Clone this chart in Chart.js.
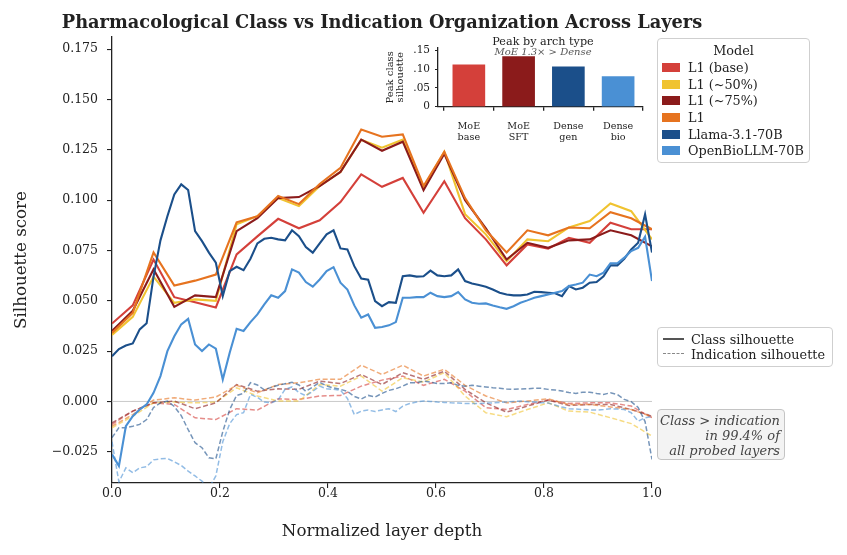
<!DOCTYPE html>
<html>
<head>
<meta charset="utf-8">
<script src="https://cdn.jsdelivr.net/npm/chart.js@4.4.1/dist/chart.umd.min.js"></script>
<style>
  html, body { margin: 0; padding: 0; background: #fff; }
  #wrap { position: relative; width: 847px; height: 555px; font-family: "DejaVu Serif", serif; color: #222; overflow: hidden; }
  #main { position: absolute; left: 0; top: 0; }
  #inset { position: absolute; left: 380px; top: 30px; }
  .abs { position: absolute; white-space: nowrap; }
  .title { left: 0; top: 12px; width: 764px; text-align: center; font-weight: bold; font-size: 17.8px; line-height: 20px; }
  .insetTitle { left: 443px; width: 200px; text-align: center; }
  .box { position: absolute; box-sizing: border-box; border: 1px solid #cfcfcf; border-radius: 4px; background: rgba(255,255,255,0.85); }
  .row { position: absolute; white-space: nowrap; font-size: 12.8px; line-height: 15px; }
  .patch { position: absolute; width: 18px; height: 9px; }
  .note { left: 657px; top: 409px; width: 128px; height: 51px; background: #f3f3f3; border-color: #c4c4c4; }
  .note div { position: absolute; right: 4px; font-style: italic; font-size: 13px; line-height: 15px; color: #444; white-space: nowrap; }
</style>
</head>
<body>
<div id="wrap">
  <canvas id="main" width="847" height="555"></canvas>
  <canvas id="inset" width="270" height="120"></canvas>
  <div class="abs title">Pharmacological Class vs Indication Organization Across Layers</div>
  <div class="abs insetTitle" style="top:36px;font-size:11.2px;line-height:12px;">Peak by arch type</div>
  <div class="abs insetTitle" style="top:46.5px;font-size:10px;line-height:10px;font-style:italic;color:#555;">MoE 1.3× &gt; Dense</div>
  <div class="box" id="modelLegend" style="left:657px;top:38px;width:153px;height:125px;"></div>
  <div class="box" id="styleLegend" style="left:657px;top:327px;width:176px;height:40px;"></div>
  <div class="box note" id="note"></div>
</div>
<script>
// Tick labels
var depthTicks = [0, 0.2, 0.4, 0.6, 0.8, 1.0];
var depthTickLabels = ['0.0', '0.2', '0.4', '0.6', '0.8', '1.0'];
var scoreTicks = [-0.025, 0, 0.025, 0.05, 0.075, 0.1, 0.125, 0.15, 0.175];
var scoreTickLabels = ['\u22120.025', '0.000', '0.025', '0.050', '0.075', '0.100', '0.125', '0.150', '0.175'];

// Models
var modelNames = ['L1 (base)', 'L1 (~50%)', 'L1 (~75%)', 'L1', 'Llama-3.1-70B', 'OpenBioLLM-70B'];
var modelColors = ['#d4403a', '#f0c330', '#8b1b1b', '#e6731f', '#1b4f8a', '#4a90d4'];

// Class silhouette per layer (L1 models: 27 probed layers)
var classL1Base = [0.0387, 0.0477, 0.0705, 0.0518, 0.0493, 0.0467, 0.073, 0.082, 0.0907, 0.086, 0.090, 0.099, 0.1128, 0.1066, 0.111, 0.0937, 0.1094, 0.091, 0.0805, 0.0676, 0.078, 0.0759, 0.0813, 0.0788, 0.0888, 0.0855, 0.0855];
var classL1Half = [0.033, 0.042, 0.062, 0.049, 0.0507, 0.050, 0.088, 0.092, 0.101, 0.097, 0.107, 0.114, 0.130, 0.126, 0.130, 0.106, 0.124, 0.093, 0.083, 0.0697, 0.0805, 0.0796, 0.0864, 0.0896, 0.0983, 0.0945, 0.0805];
var classL1ThreeQ = [0.035, 0.045, 0.0656, 0.047, 0.0527, 0.0518, 0.0846, 0.091, 0.101, 0.1015, 0.107, 0.114, 0.130, 0.1245, 0.129, 0.105, 0.123, 0.100, 0.086, 0.0705, 0.0788, 0.0763, 0.080, 0.0805, 0.085, 0.0825, 0.077];
var classL1 = [0.034, 0.044, 0.074, 0.0576, 0.060, 0.063, 0.089, 0.092, 0.102, 0.098, 0.108, 0.116, 0.135, 0.1315, 0.1326, 0.107, 0.124, 0.101, 0.085, 0.074, 0.085, 0.0825, 0.0864, 0.086, 0.094, 0.091, 0.0855];

// Dense models: 79 probed layers
var classLlama = [0.0225, 0.026, 0.0278, 0.0288, 0.0358, 0.0388, 0.062, 0.080, 0.092, 0.1028,
  0.1078, 0.105, 0.0846, 0.0796, 0.0739, 0.0689, 0.0523, 0.0647, 0.0669, 0.0652,
  0.0709, 0.0785, 0.0808, 0.0813, 0.0805, 0.080, 0.085, 0.0821, 0.0767, 0.0739,
  0.0785, 0.083, 0.085, 0.076, 0.0755, 0.0672, 0.061, 0.0605, 0.0498, 0.0473,
  0.0493, 0.049, 0.0622, 0.0626, 0.062, 0.0622, 0.065, 0.0626, 0.0622, 0.0626,
  0.0656, 0.0598, 0.0586, 0.0578, 0.057, 0.0556, 0.054, 0.0531, 0.0527, 0.0527,
  0.0531, 0.0545, 0.0543, 0.054, 0.0537, 0.0523, 0.0573, 0.0556, 0.0565, 0.059,
  0.0593, 0.0622, 0.0676, 0.0676, 0.0709, 0.0755, 0.0788, 0.0929, 0.074];
var classBio = [-0.0263, -0.0321, -0.0123, -0.0073, -0.004, -0.0015, 0.0043, 0.0126, 0.025, 0.0324,
  0.0383, 0.041, 0.0283, 0.025, 0.0283, 0.0262, 0.0109, 0.0242, 0.0361, 0.035,
  0.0394, 0.0432, 0.0482, 0.0527, 0.0515, 0.0548, 0.0656, 0.064, 0.0593, 0.057,
  0.0606, 0.0647, 0.0667, 0.059, 0.0556, 0.0477, 0.0416, 0.0432, 0.0366, 0.037,
  0.0378, 0.0394, 0.0515, 0.0515, 0.0518, 0.0518, 0.054, 0.0523, 0.0518, 0.0523,
  0.0543, 0.0507, 0.049, 0.0485, 0.0487, 0.0477, 0.0468, 0.046, 0.0473, 0.049,
  0.0502, 0.0515, 0.0523, 0.0531, 0.054, 0.0548, 0.0573, 0.0581, 0.059, 0.063,
  0.0622, 0.064, 0.0686, 0.0686, 0.0714, 0.0747, 0.0763, 0.0818, 0.0598];

// Indication silhouette per layer
var indL1Base = [-0.0114, -0.0048, -0.0007, -0.0015, -0.0081, -0.009, -0.0036, -0.0043, 0.0013, 0.001, 0.0027, 0.003, 0.0076, 0.0106, 0.0126, 0.008, 0.011, 0.0051, -0.0031, -0.004, -0.0015, 0.0007, -0.001, -0.0007, -0.0007, -0.0023, -0.0081];
var indL1Half = [-0.0131, -0.0073, -0.0007, -0.0003, -0.0007, -0.0003, 0.0068, 0.0027, 0.0002, 0.0002, 0.0084, 0.0076, 0.0126, 0.0051, 0.0118, 0.0096, 0.0143, 0.0027, -0.0056, -0.0076, -0.004, -0.0007, -0.0048, -0.0053, -0.0081, -0.011, -0.0172];
var indL1ThreeQ = [-0.0106, -0.0048, -0.0007, 0.0002, -0.0036, -0.0007, 0.0084, 0.0051, 0.0063, 0.006, 0.0101, 0.0089, 0.0134, 0.0084, 0.0143, 0.011, 0.015, 0.006, -0.0007, -0.0053, -0.0023, 0.0007, -0.002, -0.0015, -0.0015, -0.004, -0.0073];
var indL1 = [-0.0123, -0.0065, 0.0007, 0.0018, 0.0007, 0.0022, 0.008, 0.0043, 0.0084, 0.0093, 0.011, 0.011, 0.018, 0.0134, 0.018, 0.0126, 0.016, 0.008, 0.0027, -0.0007, 0.0002, 0.0013, -0.0015, -0.0015, -0.0027, -0.004, -0.0076];
var indLlama = [-0.018, -0.013, -0.013, -0.0123, -0.0114, -0.009, -0.003, -0.0007, 0.0002, -0.0025,
  -0.007, -0.014, -0.0205, -0.023, -0.028, -0.0285, -0.015, -0.004, 0.003, 0.004,
  0.0093, 0.0082, 0.0058, 0.007, 0.008, 0.0088, 0.0095, 0.0082, 0.005, 0.0072,
  0.0095, 0.0077, 0.0067, 0.006, 0.005, 0.0025, 0.0012, 0.003, 0.0022, 0.004,
  0.0055, 0.0063, 0.0076, 0.0093, 0.0093, 0.0101, 0.0096, 0.0089, 0.0089, 0.0093,
  0.008, 0.0076, 0.008, 0.0076, 0.0072, 0.0068, 0.0066, 0.0062, 0.006, 0.0062,
  0.0063, 0.0066, 0.0065, 0.006, 0.0057, 0.0052, 0.0044, 0.004, 0.0046, 0.0046,
  0.004, 0.0035, 0.0043, 0.0034, 0.001, -0.0001, -0.003, -0.010, -0.0288];
var indBio = [-0.020, -0.040, -0.033, -0.0354, -0.033, -0.0324, -0.029, -0.0285, -0.0283, -0.030,
  -0.0318, -0.0346, -0.037, -0.0396, -0.043, -0.037, -0.020, -0.011, -0.0065, -0.0056,
  0.0035, 0.002, -0.0003, -0.0007, 0.0008, 0.006, 0.0072, 0.0045, 0.0028, 0.005,
  0.0076, 0.0063, 0.006, 0.0056, 0.0015, -0.0065, -0.0048, -0.0043, -0.005, -0.0042,
  -0.0036, -0.005, -0.0023, -0.001, -0.0003, 0.0002, 0.0, -0.0003, -0.0005, -0.0007,
  -0.0008, -0.001, -0.001, -0.001, -0.0008, -0.0007, -0.0005, -0.0003, 0.0, 0.0002,
  -0.0002, -0.0003, -0.0006, -0.0008, -0.0018, -0.0028, -0.0036, -0.0038, -0.004, -0.0042,
  -0.0043, -0.004, -0.0036, -0.0038, -0.004, -0.0056, -0.0098, -0.0081, -0.0075];

// Inset: peak class silhouette by architecture
var archLabels = [['MoE', 'base'], ['MoE', 'SFT'], ['Dense', 'gen'], ['Dense', 'bio']];
var archPeaks = [0.111, 0.133, 0.106, 0.080];
var archColors = ['#d4403a', '#8b1b1b', '#1b4f8a', '#4a90d4'];
var insetTicks = [0, 0.05, 0.10, 0.15];
var insetTickLabels = ['0', '.05', '.10', '.15'];

var classSeries = [classL1Base, classL1Half, classL1ThreeQ, classL1, classLlama, classBio];
var indSeries = [indL1Base, indL1Half, indL1ThreeQ, indL1, indLlama, indBio];

var FONT = '"DejaVu Serif", serif';
var INK = '#222';

function toPoints(vals) {
  // x = normalized layer depth of each probed layer
  return vals.map(function (v, i) { return { x: i / (vals.length - 1), y: v }; });
}
function fade(hex, a) {
  var n = parseInt(hex.slice(1), 16);
  return 'rgba(' + (n >> 16) + ',' + ((n >> 8) & 255) + ',' + (n & 255) + ',' + a + ')';
}

var datasets = [];
modelNames.forEach(function (name, k) {
  datasets.push({
    label: name + ' class', data: toPoints(classSeries[k]),
    borderColor: modelColors[k], borderWidth: 2.1, pointRadius: 0, tension: 0, fill: false,
    order: -(2 * k + 10)
  });
  datasets.push({
    label: name + ' indication', data: toPoints(indSeries[k]),
    borderColor: fade(modelColors[k], 0.6), borderWidth: 1.5, borderDash: [5, 2.5],
    pointRadius: 0, tension: 0, fill: false, order: -(2 * k)
  });
});

// light grey reference line at zero
var zeroLine = {
  id: 'zeroLine',
  beforeDatasetsDraw: function (chart) {
    var a = chart.chartArea, y = chart.scales.y.getPixelForValue(0), ctx = chart.ctx;
    ctx.save();
    ctx.strokeStyle = '#c9c9c9';
    ctx.lineWidth = 1;
    ctx.beginPath();
    ctx.moveTo(a.left, y);
    ctx.lineTo(a.right, y);
    ctx.stroke();
    ctx.restore();
  }
};

var ctxMain = document.getElementById('main').getContext('2d');
var mainChart = new Chart(ctxMain, {
  type: 'line',
  data: { datasets: datasets },
  plugins: [zeroLine],
  options: {
    responsive: false,
    animation: false,
    layout: { padding: { left: 0, top: 37, right: 195, bottom: 0 } },
    plugins: { legend: { display: false }, tooltip: { enabled: false } },
    scales: {
      x: {
        type: 'linear', min: 0, max: 1,
        afterBuildTicks: function (s) { s.ticks = depthTicks.map(function (v) { return { value: v }; }); },
        afterFit: function (s) { s.height = 72; },
        ticks: {
          callback: function (v, i) { return depthTickLabels[i]; },
          font: { family: FONT, size: 12.5 }, color: INK, padding: -2, maxRotation: 0, autoSkip: false
        },
        grid: { display: true, drawOnChartArea: false, tickLength: 5, color: INK, lineWidth: 1.1 },
        border: { display: true, color: INK, width: 1.3 },
        title: { display: true, text: 'Normalized layer depth', font: { family: FONT, size: 16.7 }, color: INK, padding: { top: 0, bottom: 13 } }
      },
      y: {
        type: 'linear', min: -0.0405, max: 0.181,
        afterBuildTicks: function (s) { s.ticks = scoreTicks.map(function (v) { return { value: v }; }); },
        afterFit: function (s) { s.width = 112; },
        ticks: {
          callback: function (v, i) { return scoreTickLabels[i]; },
          font: { family: FONT, size: 12.5 }, color: INK, padding: 9, autoSkip: false
        },
        grid: { display: true, drawOnChartArea: false, tickLength: 5, color: INK, lineWidth: 1.1 },
        border: { display: true, color: INK, width: 1.3 },
        title: { display: true, text: 'Silhouette score', font: { family: FONT, size: 16.7 }, color: INK, padding: { top: 12, bottom: 0 } }
      }
    }
  }
});

// Inset bar chart
var ctxInset = document.getElementById('inset').getContext('2d');
var insetChart = new Chart(ctxInset, {
  type: 'bar',
  data: {
    datasets: [{
      data: archPeaks.map(function (v, i) { return { x: i, y: v }; }),
      backgroundColor: archColors, borderWidth: 0, barThickness: 32
    }]
  },
  options: {
    responsive: false,
    animation: false,
    layout: { padding: { left: 0, top: 18, right: 7, bottom: 0 } },
    plugins: { legend: { display: false }, tooltip: { enabled: false } },
    scales: {
      x: {
        type: 'linear', min: -0.62, max: 3.5, offset: false,
        afterBuildTicks: function (s) { s.ticks = archLabels.map(function (l, i) { return { value: i }; }); },
        afterFit: function (s) { s.height = 43.3; },
        ticks: {
          callback: function (v, i) { return archLabels[i]; },
          font: { family: FONT, size: 9.6, lineHeight: 1.2 }, color: INK, padding: 10, maxRotation: 0, autoSkip: false
        },
        grid: { display: true, drawOnChartArea: false, tickLength: 4, color: INK, lineWidth: 1.3 },
        border: { display: true, color: INK, width: 1.3 }
      },
      y: {
        type: 'linear', min: 0, max: 0.156,
        afterBuildTicks: function (s) { s.ticks = insetTicks.map(function (v) { return { value: v }; }); },
        afterFit: function (s) { s.width = 58; },
        ticks: {
          callback: function (v, i) { return insetTickLabels[i]; },
          font: { family: FONT, size: 10.5 }, color: INK, padding: 5, autoSkip: false
        },
        grid: { display: true, drawOnChartArea: false, tickLength: 3, color: INK, lineWidth: 1 },
        border: { display: true, color: INK, width: 1.3 },
        title: { display: true, text: ['Peak class', 'silhouette'], font: { family: FONT, size: 10, lineHeight: 1.05 }, color: INK, padding: { top: 5, bottom: 0 } }
      }
    }
  }
});

// Model legend (colour patches)
var modelLegend = document.getElementById('modelLegend');
var head = document.createElement('div');
head.className = 'row';
head.style.left = '0px'; head.style.width = '151px'; head.style.textAlign = 'center'; head.style.top = '4px';
head.textContent = 'Model';
modelLegend.appendChild(head);
modelNames.forEach(function (name, k) {
  var cy = 28.3 + k * 16.7;
  var p = document.createElement('div');
  p.className = 'patch';
  p.style.left = '4px'; p.style.top = (cy - 4.5) + 'px'; p.style.background = modelColors[k];
  modelLegend.appendChild(p);
  var t = document.createElement('div');
  t.className = 'row';
  t.style.left = '30px'; t.style.top = (cy - 7.5) + 'px';
  t.textContent = name;
  modelLegend.appendChild(t);
});

// Line-style legend
var styleNames = ['Class silhouette', 'Indication silhouette'];
var styleLegend = document.getElementById('styleLegend');
styleNames.forEach(function (name, k) {
  var cy = 11.3 + k * 15;
  var s = document.createElement('div');
  s.style.position = 'absolute';
  s.style.left = '5px'; s.style.width = '21px'; s.style.top = (cy - 1) + 'px'; s.style.height = '0px';
  s.style.borderTop = k === 0 ? '2px solid #555' : '1.5px dashed #888';
  styleLegend.appendChild(s);
  var t = document.createElement('div');
  t.className = 'row';
  t.style.left = '33px'; t.style.top = (cy - 7.5) + 'px';
  t.textContent = name;
  styleLegend.appendChild(t);
});

// Annotation
var noteLines = ['Class > indication', 'in 99.4% of', 'all probed layers'];
var note = document.getElementById('note');
noteLines.forEach(function (line, k) {
  var d = document.createElement('div');
  d.style.top = (2.5 + k * 15) + 'px';
  d.textContent = line;
  note.appendChild(d);
});
</script>
</body>
</html>
